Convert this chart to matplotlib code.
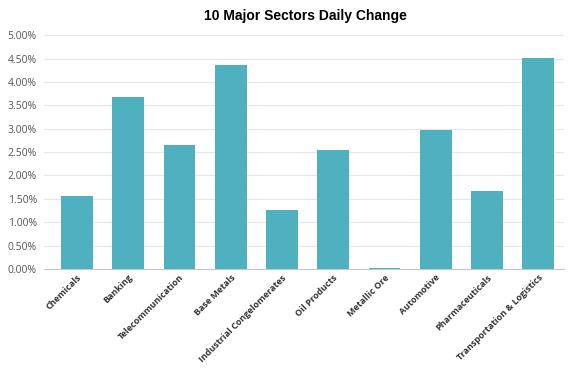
import matplotlib
matplotlib.use("Agg")
import matplotlib.pyplot as plt
import numpy as np
from matplotlib.ticker import FuncFormatter

sectors = ["Chemicals", "Banking", "Telecommunication", "Base Metals",
           "Industrial Congelomerates", "Oil Products", "Metallic Ore",
           "Automotive", "Pharmaceuticals", "Transportation & Logistics"]
changes = [1.56, 3.68, 2.65, 4.36, 1.27, 2.54, 0.02, 2.97, 1.66, 4.51]

plt.rcParams['font.family'] = ['Open Sans', 'DejaVu Sans']

fig = plt.figure(figsize=(5.76, 3.74), dpi=100)
ax = fig.add_axes([0.076, 0.281, 0.903, 0.625])

x = np.arange(len(sectors))
ax.bar(x, changes, width=0.62, color="#4FB0C0", zorder=3)

ax.set_ylim(0, 5)
ax.set_xlim(-0.65, len(sectors) - 0.5)
ax.set_yticks(np.arange(0, 5.01, 0.5))
ax.yaxis.set_major_formatter(FuncFormatter(lambda v, p: f"{v:.2f}%"))
ax.grid(axis="y", color="#e6e6e6", linewidth=0.8, zorder=0)

for s in ["top", "right", "left"]:
    ax.spines[s].set_visible(False)
ax.spines["bottom"].set_color("#c8c8c8")

ax.tick_params(axis="y", length=0, labelsize=7.5, labelcolor="#555555", pad=5)
ax.tick_params(axis="x", length=0, pad=3)
ax.set_xticks(x)
ax.set_xticklabels(sectors, rotation=45, ha="right", rotation_mode="anchor",
                   fontsize=6.5, fontweight="bold", color="#333333")

fig.suptitle("10 Major Sectors Daily Change", x=0.53, y=0.975,
             fontsize=10, fontweight="bold", family=["Liberation Sans", "DejaVu Sans"])

fig.savefig("out.png", dpi=100)
